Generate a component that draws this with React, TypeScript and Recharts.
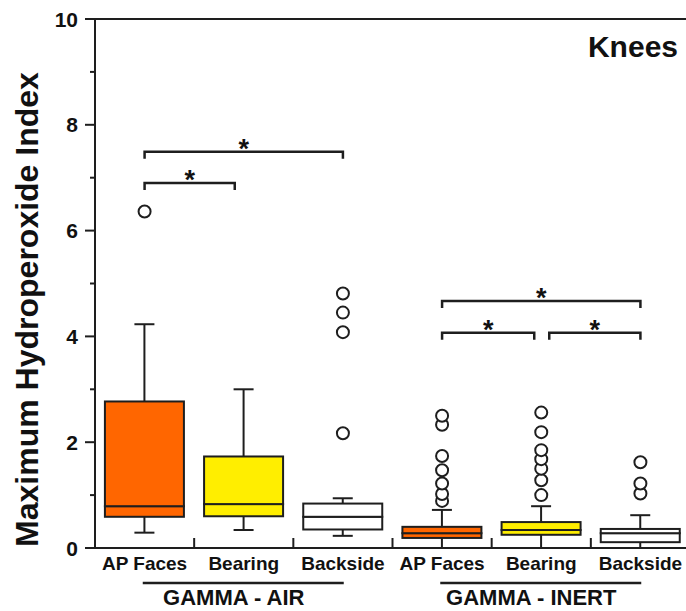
import React from "react";
import {
  ComposedChart,
  Bar,
  Scatter,
  XAxis,
  YAxis,
  ReferenceLine,
} from "recharts";

// categories (unique keys) and their printed tick labels
const categories = ["air-ap", "air-bearing", "air-backside", "inert-ap", "inert-bearing", "inert-backside"];
const tickLabels = ["AP Faces", "Bearing", "Backside", "AP Faces", "Bearing", "Backside"];

// box plot statistics
const whiskerLow = [0.29, 0.34, 0.23, 0, 0, 0];
const q1 = [0.59, 0.6, 0.35, 0.19, 0.25, 0.11];
const median = [0.79, 0.83, 0.59, 0.28, 0.34, 0.28];
const q3 = [2.77, 1.73, 0.84, 0.4, 0.49, 0.36];
const whiskerHigh = [4.23, 3.0, 0.94, 0.72, 0.79, 0.62];
const outliers = [
  [6.36],
  [],
  [2.17, 4.08, 4.45, 4.81],
  [0.89, 1.02, 1.22, 1.47, 1.74, 2.33, 2.5],
  [1.0, 1.28, 1.5, 1.68, 1.85, 2.19, 2.56],
  [1.03, 1.22, 1.62],
];

// group labels under the axis
const groupLabels = ["GAMMA - AIR", "GAMMA - INERT"];
const groupCenters = ["air-bearing", "inert-bearing"];

// significance brackets
const bracketFrom = ["air-ap", "air-ap", "inert-ap", "inert-bearing", "inert-ap"];
const bracketTo = ["air-bearing", "air-backside", "inert-bearing", "inert-backside", "inert-backside"];
const bracketLevel = [6.9, 7.49, 4.07, 4.07, 4.67];

const yTicks = [0, 1, 2, 3, 4, 5, 6, 7, 8, 9, 10];

const boxColors = ["#ff6600", "#ffee00", "#ffffff", "#ff6600", "#ffee00", "#ffffff"];
const bracketTrims = [[0, 9], [0, 0], [0, 7], [8, 0], [0, 0]];
const INK = "#1e1e1e";
const FONT = "'Liberation Sans', Arial, Helvetica, sans-serif";
const maxOutliers = Math.max(...outliers.map((o) => o.length));

const data = categories.map((key, i) => {
  const row: Record<string, number | string | null> = {
    key,
    base: whiskerLow[i],
    lw: q1[i] - whiskerLow[i],
    lb: median[i] - q1[i],
    ub: q3[i] - median[i],
    uw: whiskerHigh[i] - q3[i],
  };
  for (let k = 0; k < maxOutliers; k++) row["o" + k] = outliers[i][k] ?? null;
  return row;
});

const Whisker = (props: any, capAtTop: boolean) => {
  const { x, y, width, height } = props;
  if (x == null || y == null) return <g />;
  const cx = x + width / 2;
  const capY = capAtTop ? y : y + height;
  return (
    <g>
      <line x1={cx} x2={cx} y1={y} y2={y + height} stroke={INK} strokeWidth={2} />
      <line x1={cx - 10} x2={cx + 10} y1={capY} y2={capY} stroke={INK} strokeWidth={2} />
    </g>
  );
};

const BoxPart = (props: any) => {
  const { x, y, width, height, index } = props;
  if (x == null || y == null) return <g />;
  return (
    <rect x={x} y={y} width={width} height={height} fill={boxColors[index]} stroke={INK} strokeWidth={2} />
  );
};

const outlierShape = (key: string) => (props: any) => {
  if (props.payload == null || props.payload[key] == null || props.cy == null) return <g />;
  return <circle cx={props.cx} cy={props.cy} r={6} fill="#fff" stroke={INK} strokeWidth={2} />;
};

const YTick = (props: any) => {
  const { x, y, payload } = props;
  const major = payload.value % 2 === 0;
  return (
    <g>
      <line x1={x - (major ? 10 : 5)} x2={x} y1={y} y2={y} stroke={INK} strokeWidth={2} />
      {major && (
        <text x={x - 17} y={y} dy="0.36em" textAnchor="end" fontFamily={FONT} fontWeight="bold" fontSize={21} fill="#111">
          {payload.value}
        </text>
      )}
    </g>
  );
};

const XTick = (props: any) => {
  const { x, y, payload } = props;
  const i = categories.indexOf(payload.value);
  const half = payload.offset ?? 49.6;
  const g = groupCenters.indexOf(payload.value);
  return (
    <g>
      {i < categories.length - 1 && (
        <line x1={x + half} x2={x + half} y1={y} y2={y - 10} stroke={INK} strokeWidth={2} />
      )}
      <text x={x} y={y + 22} textAnchor="middle" fontFamily={FONT} fontWeight="bold" fontSize={19} fill="#111">
        {tickLabels[i]}
      </text>
      {g >= 0 && (
        <g>
          <line x1={x - 101} x2={x + 100} y1={y + 35} y2={y + 35} stroke={INK} strokeWidth={2.5} />
          <text x={x - 10} y={y + 57} textAnchor="middle" fontFamily={FONT} fontWeight="bold" fontSize={22} fill="#111">
            {groupLabels[g]}
          </text>
        </g>
      )}
    </g>
  );
};

const bracketShape = (trim: number[]) => (props: any) => {
  const { x1, x2, y1 } = props;
  if (x1 == null || x2 == null) return <g />;
  const a = x1 + trim[0];
  const b = x2 - trim[1];
  return (
    <g>
      <path d={`M${a},${y1 + 7} V${y1} H${b} V${y1 + 7}`} fill="none" stroke={INK} strokeWidth={2.5} />
      <text x={(a + b) / 2} y={y1 + 6} textAnchor="middle" fontFamily={FONT} fontWeight="bold" fontSize={27} fill="#111">
        *
      </text>
    </g>
  );
};

const YLabel = (props: any) => {
  const vb = props.viewBox || { x: 0, y: 19, width: 95, height: 529 };
  const cx = vb.x + 27;
  const cy = vb.y + vb.height / 2 + 26;
  return (
    <text
      x={cx}
      y={cy}
      transform={`rotate(-90, ${cx}, ${cy})`}
      textAnchor="middle"
      dominantBaseline="central"
      fontFamily={FONT}
      fontWeight="bold"
      fontSize={32}
      fill="#111"
    >
      Maximum Hydroperoxide Index
    </text>
  );
};

const KneesLabel = (props: any) => {
  const vb = props.viewBox || { x: 95, y: 19, width: 595 };
  return (
    <text x={vb.x + vb.width - 12} y={vb.y + 38} textAnchor="end" fontFamily={FONT} fontWeight="bold" fontSize={30} fill="#111">
      Knees
    </text>
  );
};

export default function App() {
  return (
    <div style={{ position: "absolute", left: 0, top: 0, width: 686, height: 611, overflow: "hidden", background: "#fff" }}>
      <ComposedChart
        width={700}
        height={611}
        data={data}
        margin={{ top: 19, right: 10, left: 0, bottom: 0 }}
        barCategoryGap="10%"
      >
        <XAxis
          dataKey="key"
          type="category"
          allowDuplicatedCategory={false}
          height={63}
          axisLine={{ stroke: INK, strokeWidth: 2 }}
          tickLine={false}
          tickSize={0}
          tickMargin={0}
          interval={0}
          tick={<XTick />}
        />
        <YAxis
          type="number"
          domain={[0, 10]}
          ticks={yTicks}
          interval={0}
          width={95}
          axisLine={{ stroke: INK, strokeWidth: 2 }}
          tickLine={false}
          tickSize={0}
          tickMargin={0}
          tick={<YTick />}
          label={{ content: <YLabel /> }}
        />
        <ReferenceLine y={10} stroke={INK} strokeWidth={2} label={{ content: <KneesLabel /> }} />
        <Bar dataKey="base" stackId="box" fill="none" isAnimationActive={false} shape={() => <g />} />
        <Bar dataKey="lw" stackId="box" isAnimationActive={false} shape={(p: any) => Whisker(p, false)} />
        <Bar dataKey="lb" stackId="box" isAnimationActive={false} shape={BoxPart} />
        <Bar dataKey="ub" stackId="box" isAnimationActive={false} shape={BoxPart} />
        <Bar dataKey="uw" stackId="box" isAnimationActive={false} shape={(p: any) => Whisker(p, true)} />
        {Array.from({ length: maxOutliers }, (_, k) => (
          <Scatter key={k} dataKey={"o" + k} isAnimationActive={false} shape={outlierShape("o" + k)} />
        ))}
        {bracketLevel.map((lvl, i) => (
          <ReferenceLine
            key={i}
            segment={[
              { x: bracketFrom[i], y: lvl },
              { x: bracketTo[i], y: lvl },
            ]}
            shape={bracketShape(bracketTrims[i])}
          />
        ))}
      </ComposedChart>
    </div>
  );
}
